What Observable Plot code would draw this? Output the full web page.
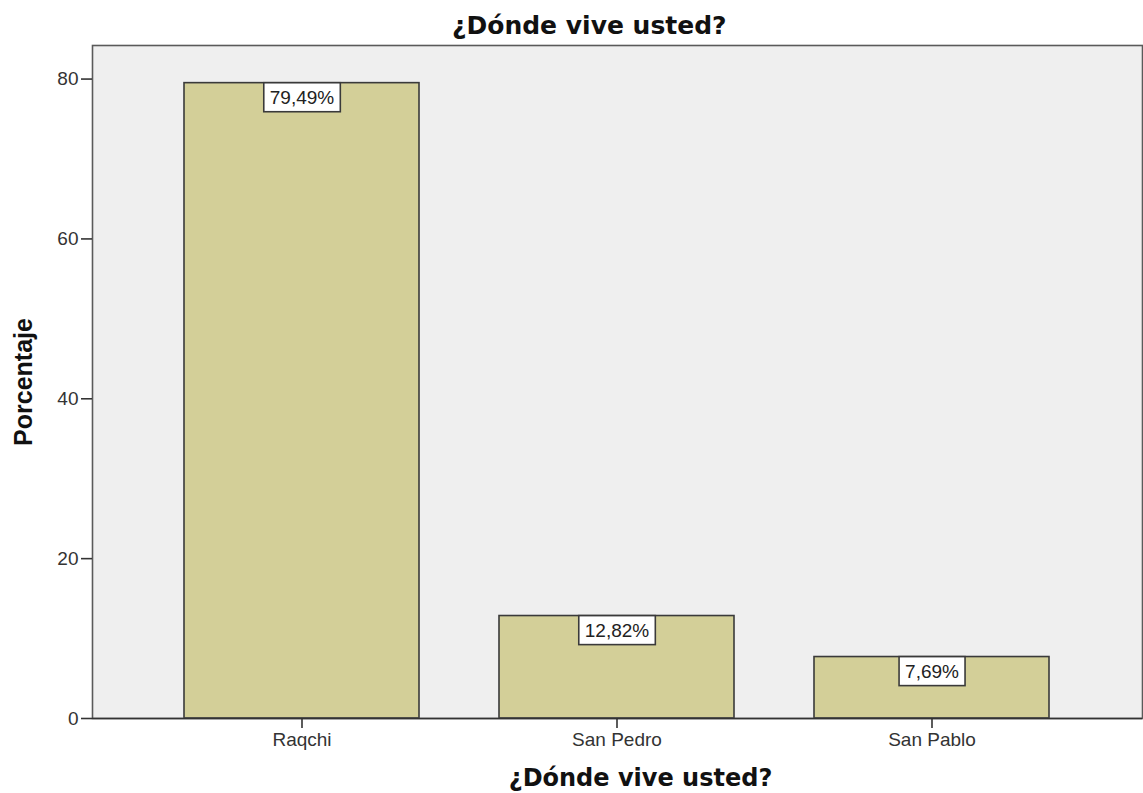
<!DOCTYPE html>
<html>
<head>
<meta charset="utf-8">
<script src="https://cdn.jsdelivr.net/npm/d3@7"></script>
<script src="https://cdn.jsdelivr.net/npm/@observablehq/plot@0.6"></script>
<style>
  html, body { margin: 0; padding: 0; background: #fff; }
  #title { height: 42px; width: 1143px; font-family: "DejaVu Sans", sans-serif; font-weight: bold; font-size: 25px; line-height: 42px; color: #111; padding-top: 5px; padding-left: 452px; box-sizing: border-box; white-space: nowrap; }
</style>
</head>
<body>
<div id="title">¿Dónde vive usted?</div>
<div id="chart"></div>
<script>
const categories = ["Raqchi", "San Pedro", "San Pablo"];
const percentages = [79.49, 12.82, 7.69];
const valueLabels = ["79,49%", "12,82%", "7,69%"];
const yTicks = [0, 20, 40, 60, 80];
const xTitle = "¿Dónde vive usted?";
const yTitle = "Porcentaje";

const data = categories.map((c, i) => ({name: c, pct: percentages[i], label: valueLabels[i]}));

const plot = Plot.plot({
  width: 1143,
  height: 751,
  marginTop: 3,
  marginBottom: 75,
  marginLeft: 92,
  marginRight: 1,
  style: {fontFamily: "'Liberation Sans', Arial, sans-serif", fontSize: "19px", color: "#333", background: "#fff"},
  x: {domain: categories, paddingInner: 0.2525, paddingOuter: 0.289, label: null},
  y: {domain: [0, 84.2], label: null},
  marks: [
    Plot.frame({fill: "#efefef", stroke: null}),
    Plot.barY(data, {x: "name", y: "pct", fill: "#d3cf98", stroke: "#3a3a3a", strokeWidth: 1.6}),
    Plot.frame({stroke: "#5a5a5a", strokeWidth: 1.6}),
    Plot.ruleY([0], {stroke: "#333", strokeWidth: 1.6}),
    Plot.axisY({ticks: yTicks, tickSize: 11, tickPadding: 3, tickFormat: d => String(d), stroke: "#333", strokeWidth: 1.6, fill: "#333", fontSize: 19, label: null}),
    Plot.axisX({tickSize: 10, tickPadding: 4, stroke: "#333", strokeWidth: 1.6, fill: "#333", fontSize: 19, label: null}),
    Plot.text(data, {x: "name", y: "pct", text: "label", dy: 14.5, fontSize: 19, fill: "#222", className: "vlab"}),
    Plot.text([xTitle], {frameAnchor: "bottom", dx: 23, dy: 67, text: d => d, fontFamily: "DejaVu Sans, sans-serif", fontWeight: "bold", fontSize: 24, fill: "#111"}),
    Plot.text([yTitle], {frameAnchor: "left", textAnchor: "middle", dx: -69, rotate: -90, text: d => d, fontFamily: "'Liberation Sans', Arial, sans-serif", fontWeight: "bold", fontSize: 25, fill: "#111"})
  ]
});
document.getElementById("chart").appendChild(plot);

// white boxes behind the value labels
plot.querySelectorAll(".vlab text").forEach(t => {
  const bb = t.getBBox();
  const r = document.createElementNS("http://www.w3.org/2000/svg", "rect");
  r.setAttribute("x", bb.x - 6);
  r.setAttribute("y", bb.y + bb.height / 2 - 14.5);
  r.setAttribute("width", bb.width + 12);
  r.setAttribute("height", 29);
  r.setAttribute("fill", "#fff");
  r.setAttribute("stroke", "#3a3a3a");
  r.setAttribute("stroke-width", 1.6);
  const tr = t.getAttribute("transform");
  if (tr) r.setAttribute("transform", tr);
  t.parentNode.insertBefore(r, t);
});
</script>
</body>
</html>
